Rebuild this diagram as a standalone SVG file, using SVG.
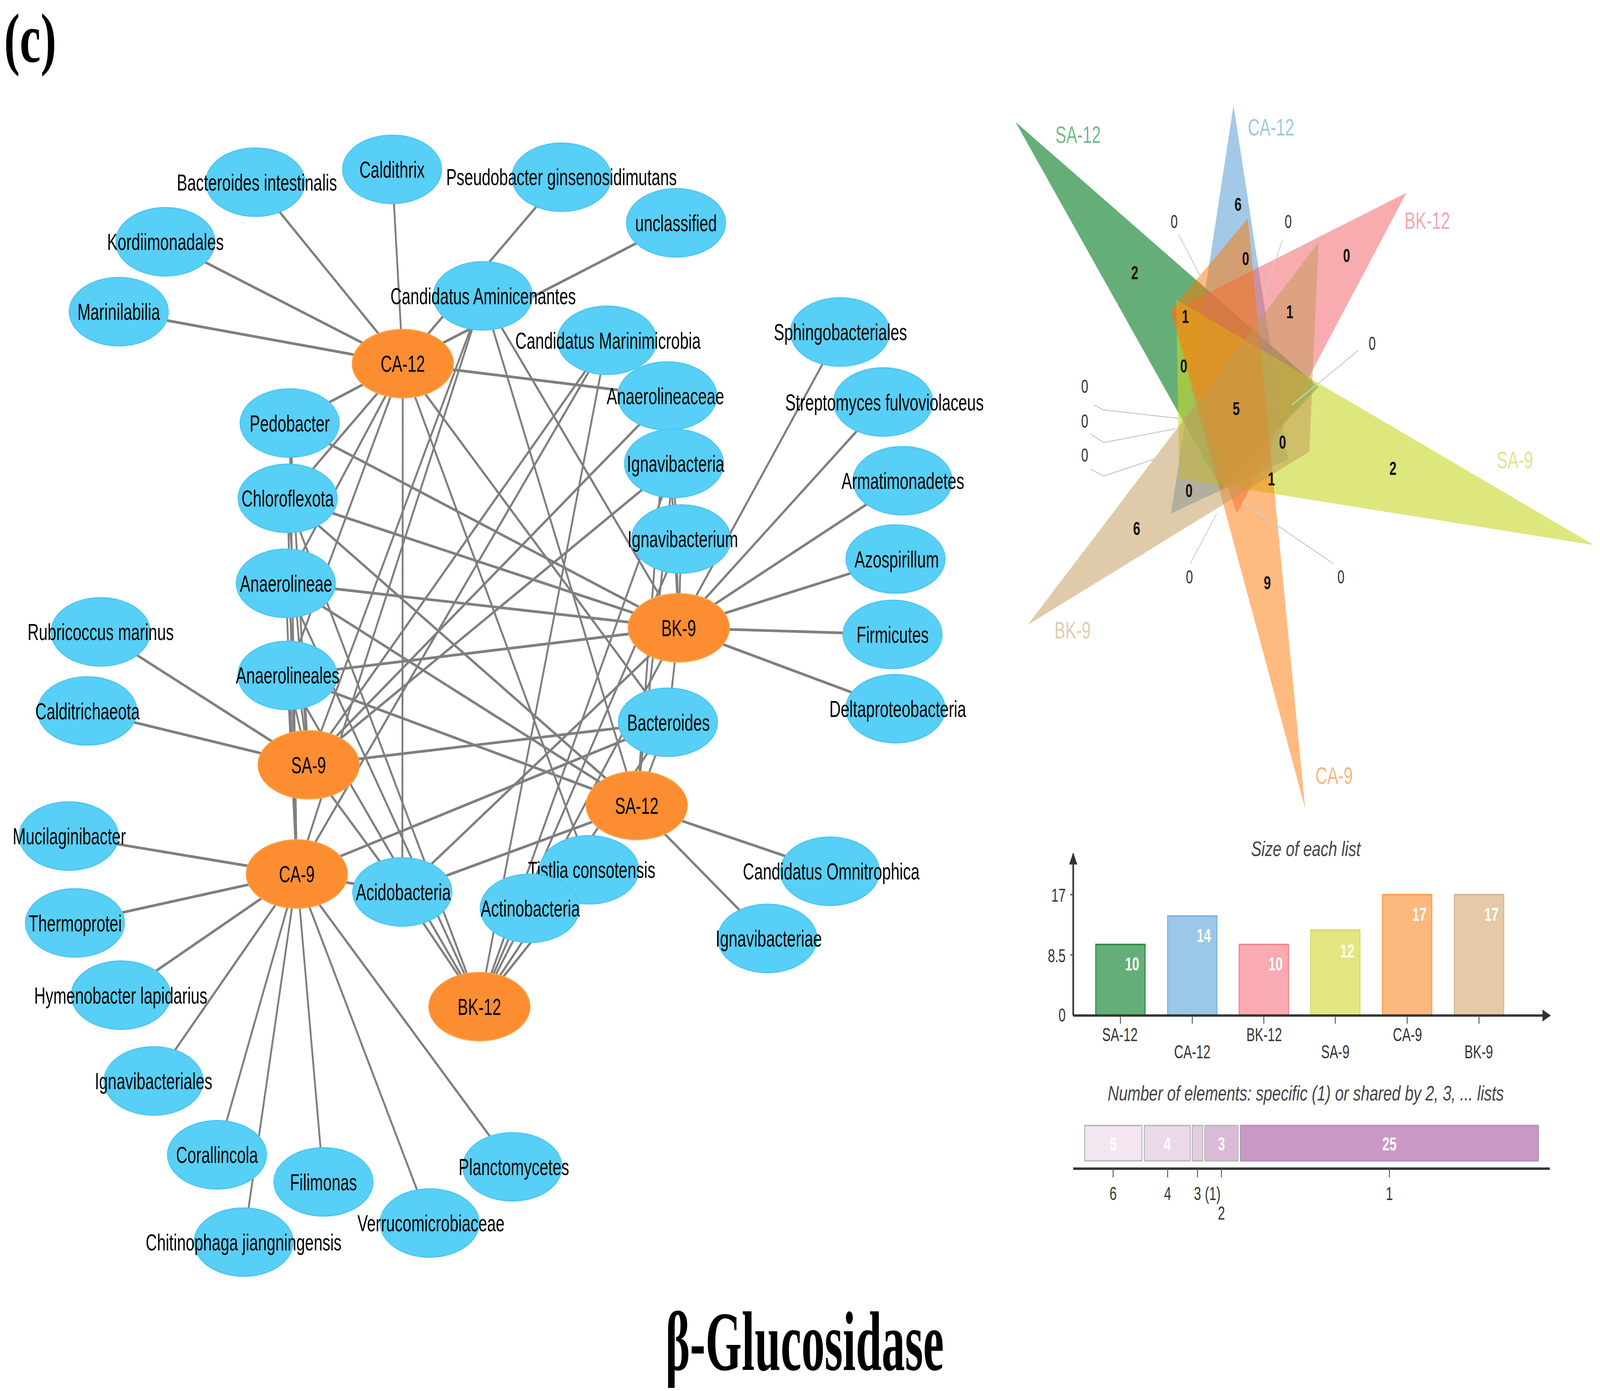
<svg xmlns="http://www.w3.org/2000/svg" width="6026" height="3562" viewBox="0 0 6026 3562" preserveAspectRatio="none" style="width:100vw;height:100vh;display:block">
<style>
.e{stroke:#7f7f7f;stroke-width:1.8;fill:none}
.nb{fill:#58cff6;stroke:#4cc6f2;stroke-width:0.8}
.no{fill:#fd8d31;stroke:#f9a545;stroke-width:0.8}
.lb{font-family:"Liberation Sans",Arial,sans-serif;font-size:15.3px;fill:#000;text-anchor:middle}
.vn{font-family:"Liberation Sans",Arial,sans-serif;font-size:12.5px;text-anchor:middle;fill:#111;font-weight:bold}
.vo{font-family:"Liberation Sans",Arial,sans-serif;font-size:12.5px;text-anchor:middle;fill:#333}
.vl{font-family:"Liberation Sans",Arial,sans-serif;font-size:16px}
.ld{stroke:#cfcfcf;stroke-width:0.8;fill:none}
.ax{stroke:#333;stroke-width:1.6;fill:none}
.tk{stroke:#555;stroke-width:0.9}
.bt{font-family:"Liberation Sans",Arial,sans-serif;font-size:12.5px;fill:#333;text-anchor:middle}
.br{font-family:"Liberation Sans",Arial,sans-serif;font-size:12.5px;fill:#333;text-anchor:end}
.bv{font-family:"Liberation Sans",Arial,sans-serif;font-size:12.5px;fill:#fff;font-weight:bold;text-anchor:middle}
.it{font-family:"Liberation Sans",Arial,sans-serif;font-size:14px;fill:#444;font-style:italic;text-anchor:middle}
.ttl{font-family:"Liberation Serif","Times New Roman",serif;font-weight:bold;fill:#000}
</style>
<defs>
<marker id="ah" viewBox="0 0 10 10" refX="9" refY="5" markerWidth="9" markerHeight="8" markerUnits="userSpaceOnUse" orient="auto"><path d="M0,0 L10,5 L0,10 z" fill="#333"/></marker>
</defs>
<rect width="6026" height="3562" fill="#fff"/>
<g transform="scale(3.85541)">
<text class="ttl" x="4" y="41" font-size="46">(c)</text>
<text class="ttl" x="650" y="910" font-size="56" textLength="272" lengthAdjust="spacingAndGlyphs">β-Glucosidase</text>

<g id="connectors">
<line class="e" x1="393.5" y1="241.5" x2="249.5" y2="121"/>
<line class="e" x1="393.5" y1="241.5" x2="383" y2="112.5"/>
<line class="e" x1="393.5" y1="241.5" x2="548.5" y2="117.7"/>
<line class="e" x1="393.5" y1="241.5" x2="660.4" y2="148"/>
<line class="e" x1="393.5" y1="241.5" x2="161.6" y2="160.6"/>
<line class="e" x1="393.5" y1="241.5" x2="116" y2="207"/>
<line class="e" x1="393.5" y1="241.5" x2="283" y2="281"/>
<line class="e" x1="393.5" y1="241.5" x2="281" y2="331"/>
<line class="e" x1="393.5" y1="241.5" x2="279.2" y2="387.4"/>
<line class="e" x1="393.5" y1="241.5" x2="280.8" y2="448.6"/>
<line class="e" x1="393.5" y1="241.5" x2="393" y2="592.4"/>
<line class="e" x1="393.5" y1="241.5" x2="652.5" y2="479.7"/>
<line class="e" x1="393.5" y1="241.5" x2="575.5" y2="577.7"/>
<line class="e" x1="393.5" y1="241.5" x2="651.8" y2="263"/>
<line class="e" x1="663" y1="417" x2="820.6" y2="220.5"/>
<line class="e" x1="663" y1="417" x2="862.7" y2="267"/>
<line class="e" x1="663" y1="417" x2="881.7" y2="319.3"/>
<line class="e" x1="663" y1="417" x2="874.8" y2="371.3"/>
<line class="e" x1="663" y1="417" x2="871.9" y2="421.4"/>
<line class="e" x1="663" y1="417" x2="874.7" y2="470.7"/>
<line class="e" x1="663" y1="417" x2="281" y2="331"/>
<line class="e" x1="663" y1="417" x2="279.2" y2="387.4"/>
<line class="e" x1="663" y1="417" x2="280.8" y2="448.6"/>
<line class="e" x1="663" y1="417" x2="393" y2="592.4"/>
<line class="e" x1="663" y1="417" x2="652.5" y2="479.7"/>
<line class="e" x1="663" y1="417" x2="283" y2="281"/>
<line class="e" x1="663" y1="417" x2="471.7" y2="196.5"/>
<line class="e" x1="663" y1="417" x2="651.8" y2="263"/>
<line class="e" x1="663" y1="417" x2="658.4" y2="307.8"/>
<line class="e" x1="663" y1="417" x2="665.4" y2="358"/>
<line class="e" x1="663" y1="417" x2="517.5" y2="603.3"/>
<line class="e" x1="301.5" y1="508" x2="98.3" y2="419.7"/>
<line class="e" x1="301.5" y1="508" x2="85.2" y2="472.2"/>
<line class="e" x1="301.5" y1="508" x2="281" y2="331"/>
<line class="e" x1="301.5" y1="508" x2="279.2" y2="387.4"/>
<line class="e" x1="301.5" y1="508" x2="280.8" y2="448.6"/>
<line class="e" x1="301.5" y1="508" x2="393" y2="592.4"/>
<line class="e" x1="301.5" y1="508" x2="652.5" y2="479.7"/>
<line class="e" x1="301.5" y1="508" x2="471.7" y2="196.5"/>
<line class="e" x1="301.5" y1="508" x2="593" y2="226"/>
<line class="e" x1="301.5" y1="508" x2="651.8" y2="263"/>
<line class="e" x1="301.5" y1="508" x2="658.4" y2="307.8"/>
<line class="e" x1="301.5" y1="508" x2="283" y2="281"/>
<line class="e" x1="290" y1="580.5" x2="67.2" y2="555.3"/>
<line class="e" x1="290" y1="580.5" x2="73.2" y2="613"/>
<line class="e" x1="290" y1="580.5" x2="118" y2="661"/>
<line class="e" x1="290" y1="580.5" x2="150" y2="718"/>
<line class="e" x1="290" y1="580.5" x2="212" y2="767"/>
<line class="e" x1="290" y1="580.5" x2="316" y2="785"/>
<line class="e" x1="290" y1="580.5" x2="238" y2="825"/>
<line class="e" x1="290" y1="580.5" x2="419.7" y2="812.3"/>
<line class="e" x1="290" y1="580.5" x2="500.5" y2="775"/>
<line class="e" x1="290" y1="580.5" x2="281" y2="331"/>
<line class="e" x1="290" y1="580.5" x2="279.2" y2="387.4"/>
<line class="e" x1="290" y1="580.5" x2="280.8" y2="448.6"/>
<line class="e" x1="290" y1="580.5" x2="393" y2="592.4"/>
<line class="e" x1="290" y1="580.5" x2="652.5" y2="479.7"/>
<line class="e" x1="290" y1="580.5" x2="471.7" y2="196.5"/>
<line class="e" x1="290" y1="580.5" x2="593" y2="226"/>
<line class="e" x1="290" y1="580.5" x2="283" y2="281"/>
<line class="e" x1="622" y1="535" x2="810.7" y2="578.7"/>
<line class="e" x1="622" y1="535" x2="749.6" y2="623.3"/>
<line class="e" x1="622" y1="535" x2="281" y2="331"/>
<line class="e" x1="622" y1="535" x2="279.2" y2="387.4"/>
<line class="e" x1="622" y1="535" x2="280.8" y2="448.6"/>
<line class="e" x1="622" y1="535" x2="393" y2="592.4"/>
<line class="e" x1="622" y1="535" x2="652.5" y2="479.7"/>
<line class="e" x1="622" y1="535" x2="658.4" y2="307.8"/>
<line class="e" x1="622" y1="535" x2="471.7" y2="196.5"/>
<line class="e" x1="622" y1="535" x2="651.8" y2="263"/>
<line class="e" x1="468.3" y1="668.6" x2="281" y2="331"/>
<line class="e" x1="468.3" y1="668.6" x2="279.2" y2="387.4"/>
<line class="e" x1="468.3" y1="668.6" x2="280.8" y2="448.6"/>
<line class="e" x1="468.3" y1="668.6" x2="393" y2="592.4"/>
<line class="e" x1="468.3" y1="668.6" x2="652.5" y2="479.7"/>
<line class="e" x1="468.3" y1="668.6" x2="517.5" y2="603.3"/>
<line class="e" x1="468.3" y1="668.6" x2="575.5" y2="577.7"/>
<line class="e" x1="468.3" y1="668.6" x2="665.4" y2="358"/>
<line class="e" x1="468.3" y1="668.6" x2="658.4" y2="307.8"/>
<line class="e" x1="468.3" y1="668.6" x2="593" y2="226"/>
</g>

<g id="n-bacteroides-intestinalis"><ellipse class="nb" cx="249.5" cy="121" rx="48.5" ry="22.7"/><text class="lb" x="251" y="126.5">Bacteroides intestinalis</text></g>
<g id="n-caldithrix"><ellipse class="nb" cx="383" cy="112.5" rx="48.5" ry="22.7"/><text class="lb" x="383" y="118">Caldithrix</text></g>
<g id="n-pseudobacter"><ellipse class="nb" cx="548.5" cy="117.7" rx="48.5" ry="22.7"/><text class="lb" x="548.5" y="123">Pseudobacter ginsenosidimutans</text></g>
<g id="n-unclassified"><ellipse class="nb" cx="660.4" cy="148" rx="48.5" ry="22.7"/><text class="lb" x="660.4" y="153.5">unclassified</text></g>
<g id="n-kordiimonadales"><ellipse class="nb" cx="161.6" cy="160.6" rx="48.5" ry="22.7"/><text class="lb" x="161.6" y="166">Kordiimonadales</text></g>
<g id="n-marinilabilia"><ellipse class="nb" cx="116" cy="207" rx="48.5" ry="22.7"/><text class="lb" x="116" y="212.5">Marinilabilia</text></g>
<g id="n-marinimicrobia"><ellipse class="nb" cx="593" cy="226" rx="48.5" ry="22.7"/><text class="lb" x="594" y="231.5">Candidatus Marinimicrobia</text></g>
<g id="n-aminicenantes"><ellipse class="nb" cx="471.7" cy="196.5" rx="48.5" ry="22.7"/><text class="lb" x="472" y="202">Candidatus Aminicenantes</text></g>
<g id="n-pedobacter"><ellipse class="nb" cx="283" cy="281" rx="48.5" ry="22.7"/><text class="lb" x="283" y="286.5">Pedobacter</text></g>
<g id="n-anaerolineaceae"><ellipse class="nb" cx="651.8" cy="263" rx="48.5" ry="22.7"/><text class="lb" x="650" y="268.5">Anaerolineaceae</text></g>
<g id="n-chloroflexota"><ellipse class="nb" cx="281" cy="331" rx="48.5" ry="22.7"/><text class="lb" x="281" y="336.5">Chloroflexota</text></g>
<g id="n-ignavibacteria"><ellipse class="nb" cx="658.4" cy="307.8" rx="48.5" ry="22.7"/><text class="lb" x="660" y="313.3">Ignavibacteria</text></g>
<g id="n-ignavibacterium"><ellipse class="nb" cx="665.4" cy="358" rx="48.5" ry="22.7"/><text class="lb" x="667" y="363.5">Ignavibacterium</text></g>
<g id="n-anaerolineae"><ellipse class="nb" cx="279.2" cy="387.4" rx="48.5" ry="22.7"/><text class="lb" x="279.5" y="393">Anaerolineae</text></g>
<g id="n-anaerolineales"><ellipse class="nb" cx="280.8" cy="448.6" rx="48.5" ry="22.7"/><text class="lb" x="281" y="454">Anaerolineales</text></g>
<g id="n-rubricoccus"><ellipse class="nb" cx="98.3" cy="419.7" rx="48.5" ry="22.7"/><text class="lb" x="98.3" y="425.2">Rubricoccus marinus</text></g>
<g id="n-calditrichaeota"><ellipse class="nb" cx="85.2" cy="472.2" rx="48.5" ry="22.7"/><text class="lb" x="85.5" y="477.7">Calditrichaeota</text></g>
<g id="n-sphingobacteriales"><ellipse class="nb" cx="820.6" cy="220.5" rx="48.5" ry="22.7"/><text class="lb" x="821" y="226">Sphingobacteriales</text></g>
<g id="n-streptomyces"><ellipse class="nb" cx="862.7" cy="267" rx="48.5" ry="22.7"/><text class="lb" x="864" y="272.5">Streptomyces fulvoviolaceus</text></g>
<g id="n-armatimonadetes"><ellipse class="nb" cx="881.7" cy="319.3" rx="48.5" ry="22.7"/><text class="lb" x="882" y="324.8">Armatimonadetes</text></g>
<g id="n-azospirillum"><ellipse class="nb" cx="874.8" cy="371.3" rx="48.5" ry="22.7"/><text class="lb" x="876" y="376.8">Azospirillum</text></g>
<g id="n-firmicutes"><ellipse class="nb" cx="871.9" cy="421.4" rx="48.5" ry="22.7"/><text class="lb" x="872" y="426.9">Firmicutes</text></g>
<g id="n-deltaproteobacteria"><ellipse class="nb" cx="874.7" cy="470.7" rx="48.5" ry="22.7"/><text class="lb" x="877" y="476.2">Deltaproteobacteria</text></g>
<g id="n-bacteroides"><ellipse class="nb" cx="652.5" cy="479.7" rx="48.5" ry="22.7"/><text class="lb" x="653" y="485.2">Bacteroides</text></g>
<g id="n-mucilaginibacter"><ellipse class="nb" cx="67.2" cy="555.3" rx="48.5" ry="22.7"/><text class="lb" x="67.7" y="560.8">Mucilaginibacter</text></g>
<g id="n-thermoprotei"><ellipse class="nb" cx="73.2" cy="613" rx="48.5" ry="22.7"/><text class="lb" x="73.5" y="618.5">Thermoprotei</text></g>
<g id="n-acidobacteria"><ellipse class="nb" cx="393" cy="592.4" rx="48.5" ry="22.7"/><text class="lb" x="394" y="597.9">Acidobacteria</text></g>
<g id="n-tistlia"><ellipse class="nb" cx="575.5" cy="577.7" rx="48.5" ry="22.7"/><text class="lb" x="578" y="583.2">Tistlia consotensis</text></g>
<g id="n-actinobacteria"><ellipse class="nb" cx="517.5" cy="603.3" rx="48.5" ry="22.7"/><text class="lb" x="518" y="608.8">Actinobacteria</text></g>
<g id="n-omnitrophica"><ellipse class="nb" cx="810.7" cy="578.7" rx="48.5" ry="22.7"/><text class="lb" x="812" y="584.2">Candidatus Omnitrophica</text></g>
<g id="n-ignavibacteriae"><ellipse class="nb" cx="749.6" cy="623.3" rx="48.5" ry="22.7"/><text class="lb" x="751" y="628.8">Ignavibacteriae</text></g>
<g id="n-hymenobacter"><ellipse class="nb" cx="118" cy="661" rx="48.5" ry="22.7"/><text class="lb" x="118" y="666.5">Hymenobacter lapidarius</text></g>
<g id="n-ignavibacteriales"><ellipse class="nb" cx="150" cy="718" rx="48.5" ry="22.7"/><text class="lb" x="150" y="723.5">Ignavibacteriales</text></g>
<g id="n-corallincola"><ellipse class="nb" cx="212" cy="767" rx="48.5" ry="22.7"/><text class="lb" x="212" y="772.5">Corallincola</text></g>
<g id="n-filimonas"><ellipse class="nb" cx="316" cy="785" rx="48.5" ry="22.7"/><text class="lb" x="316" y="790.5">Filimonas</text></g>
<g id="n-planctomycetes"><ellipse class="nb" cx="500.5" cy="775" rx="48.5" ry="22.7"/><text class="lb" x="502" y="780.5">Planctomycetes</text></g>
<g id="n-chitinophaga"><ellipse class="nb" cx="238" cy="825" rx="48.5" ry="22.7"/><text class="lb" x="238" y="830.5">Chitinophaga jiangningensis</text></g>
<g id="n-verrucomicrobiaceae"><ellipse class="nb" cx="419.7" cy="812.3" rx="48.5" ry="22.7"/><text class="lb" x="421" y="817.8">Verrucomicrobiaceae</text></g>

<g id="n-CA-12"><ellipse class="no" cx="393.5" cy="241.5" rx="49.5" ry="22.7"/><text class="lb" x="393.5" y="247">CA-12</text></g>
<g id="n-BK-9"><ellipse class="no" cx="663" cy="417" rx="49.5" ry="22.7"/><text class="lb" x="663" y="422.5">BK-9</text></g>
<g id="n-SA-9"><ellipse class="no" cx="301.5" cy="508" rx="49.5" ry="22.7"/><text class="lb" x="301.5" y="513.5">SA-9</text></g>
<g id="n-CA-9"><ellipse class="no" cx="290" cy="580.5" rx="49.5" ry="22.7"/><text class="lb" x="290" y="586">CA-9</text></g>
<g id="n-SA-12"><ellipse class="no" cx="622" cy="535" rx="49.5" ry="22.7"/><text class="lb" x="622" y="540.5">SA-12</text></g>
<g id="n-BK-12"><ellipse class="no" cx="468.3" cy="668.6" rx="49.5" ry="22.7"/><text class="lb" x="468.3" y="674.1">BK-12</text></g>

<g id="venn">
<polygon points="992,81 1288,257 1193,325" fill="rgb(0,120,30)" fill-opacity="0.6"/>
<polygon points="1205,70 1144,341 1258,305" fill="rgb(90,155,212)" fill-opacity="0.55"/>
<polygon points="1374,128 1144,207 1208,341" fill="rgb(241,90,96)" fill-opacity="0.5"/>
<polygon points="1557,362 1149,199 1152,318" fill="rgb(200,215,40)" fill-opacity="0.6"/>
<polygon points="1275,537 1219,145 1144,206" fill="rgb(255,117,0)" fill-opacity="0.5"/>
<polygon points="1004,415 1288,161 1279,300" fill="rgb(192,152,83)" fill-opacity="0.5"/>
<polyline class="ld" points="1151.6,156 1175.5,187.4"/>
<polyline class="ld" points="1253,159 1234.5,196.8"/>
<polyline class="ld" points="1326.5,233 1262,269"/>
<polyline class="ld" points="1068.8,269 1078,272.2 1151.6,277.9"/>
<polyline class="ld" points="1065,288 1078,294 1148,284.8"/>
<polyline class="ld" points="1065,311.5 1078,316.2 1149.8,299.9"/>
<polyline class="ld" points="1162.7,374.4 1188.4,341.4"/>
<polyline class="ld" points="1302.6,374.4 1214.2,333.5"/>
<text class="vl" x="1031" y="95" fill="rgb(120,185,135)">SA-12</text>
<text class="vl" x="1219" y="90" fill="rgb(155,200,230)">CA-12</text>
<text class="vl" x="1372" y="152" fill="rgb(245,165,172)">BK-12</text>
<text class="vl" x="1462" y="311" fill="rgb(222,228,140)">SA-9</text>
<text class="vl" x="1285" y="520.5" fill="rgb(250,180,120)">CA-9</text>
<text class="vl" x="1030" y="424" fill="rgb(225,205,170)">BK-9</text>
<text class="vn" x="1209.4" y="140">6</text>
<text class="vo" x="1147" y="151.5">0</text>
<text class="vo" x="1258.4" y="151.5">0</text>
<text class="vn" x="1108.5" y="185.5">2</text>
<text class="vn" x="1216.8" y="176.2">0</text>
<text class="vn" x="1315.5" y="174">0</text>
<text class="vn" x="1158" y="214.5">1</text>
<text class="vn" x="1260" y="211.5">1</text>
<text class="vo" x="1340.5" y="232.5">0</text>
<text class="vn" x="1156.4" y="247.5">0</text>
<text class="vn" x="1207.6" y="275.8">5</text>
<text class="vo" x="1059.6" y="261">0</text>
<text class="vo" x="1059.6" y="284">0</text>
<text class="vo" x="1059.6" y="306.5">0</text>
<text class="vn" x="1252.9" y="298.1">0</text>
<text class="vn" x="1360.7" y="315.4">2</text>
<text class="vn" x="1242" y="322.3">1</text>
<text class="vn" x="1161.5" y="330.2">0</text>
<text class="vn" x="1110.4" y="355.3">6</text>
<text class="vo" x="1161.9" y="387.4">0</text>
<text class="vo" x="1310" y="387.4">0</text>
<text class="vn" x="1238" y="391.5">9</text>
</g>

<g id="bar-chart">
<text class="it" x="1275.6" y="568.5" textLength="107" lengthAdjust="spacingAndGlyphs">Size of each list</text>
<rect x="1070.4" y="627.3" width="48.2" height="47.2" fill="rgb(100,175,120)" stroke="rgb(45,135,65)" stroke-width="1"/>
<rect x="1140.6" y="608.4" width="48.2" height="66.1" fill="rgb(155,200,232)" stroke="rgb(120,178,222)" stroke-width="1"/>
<rect x="1210.5" y="627.3" width="48.2" height="47.2" fill="rgb(250,170,178)" stroke="rgb(242,130,140)" stroke-width="1"/>
<rect x="1280.3" y="617.8" width="48.2" height="56.7" fill="rgb(228,230,130)" stroke="rgb(212,218,100)" stroke-width="1"/>
<rect x="1350.5" y="594.2" width="48.2" height="80.3" fill="rgb(253,185,125)" stroke="rgb(250,155,80)" stroke-width="1"/>
<rect x="1420.7" y="594.2" width="48.2" height="80.3" fill="rgb(228,202,168)" stroke="rgb(212,182,145)" stroke-width="1"/>
<text class="bv" x="1106" y="644.5">10</text>
<text class="bv" x="1176" y="625.5">14</text>
<text class="bv" x="1246" y="644.5">10</text>
<text class="bv" x="1316" y="636">12</text>
<text class="bv" x="1386.5" y="611.7">17</text>
<text class="bv" x="1457" y="611.7">17</text>
<line class="ax" x1="1048.4" y1="674.5" x2="1048.4" y2="567" marker-end="url(#ah)"/>
<line class="ax" x1="1048.4" y1="674.5" x2="1514" y2="674.5" marker-end="url(#ah)"/>
<line class="tk" x1="1045.5" y1="594.2" x2="1048.4" y2="594.2"/>
<line class="tk" x1="1045.5" y1="634.3" x2="1048.4" y2="634.3"/>
<text class="br" x="1041" y="599">17</text>
<text class="br" x="1041" y="639">8.5</text>
<text class="br" x="1041" y="678.5">0</text>
<line class="tk" x1="1094.5" y1="674.5" x2="1094.5" y2="680"/>
<line class="tk" x1="1164.7" y1="674.5" x2="1164.7" y2="680"/>
<line class="tk" x1="1234.6" y1="674.5" x2="1234.6" y2="680"/>
<line class="tk" x1="1304.4" y1="674.5" x2="1304.4" y2="680"/>
<line class="tk" x1="1374.6" y1="674.5" x2="1374.6" y2="680"/>
<line class="tk" x1="1444.8" y1="674.5" x2="1444.8" y2="680"/>
<text class="bt" x="1094" y="691.5">SA-12</text>
<text class="bt" x="1164.7" y="703">CA-12</text>
<text class="bt" x="1234.9" y="691.5">BK-12</text>
<text class="bt" x="1304.4" y="703">SA-9</text>
<text class="bt" x="1374.9" y="691.5">CA-9</text>
<text class="bt" x="1444.5" y="703">BK-9</text>
<text class="it" x="1275.6" y="731" textLength="387" lengthAdjust="spacingAndGlyphs">Number of elements: specific (1) or shared by 2, 3, ... lists</text>
<rect x="1059.6" y="747.6" width="55.9" height="23.4" fill="rgb(243,230,240)" stroke="#b8b8b8" stroke-width="1"/>
<rect x="1117.9" y="747.6" width="44.8" height="23.4" fill="rgb(236,217,232)" stroke="#b8b8b8" stroke-width="1"/>
<rect x="1164.7" y="747.6" width="10.2" height="23.4" fill="rgb(229,205,226)" stroke="#b8b8b8" stroke-width="1"/>
<rect x="1176.9" y="747.6" width="32.5" height="23.4" fill="rgb(218,186,216)" stroke="#b8b8b8" stroke-width="1"/>
<rect x="1211.8" y="747.6" width="291" height="23.4" fill="rgb(202,152,196)" stroke="#b094b0" stroke-width="1"/>
<text class="bv" x="1087.5" y="764">5</text>
<text class="bv" x="1140.3" y="764">4</text>
<text class="bv" x="1193.2" y="764">3</text>
<text class="bv" x="1357.3" y="764">25</text>
<line class="ax" x1="1048.4" y1="776.2" x2="1514" y2="776.2"/>
<line class="tk" x1="1087.4" y1="776.2" x2="1087.4" y2="782"/>
<line class="tk" x1="1140.6" y1="776.2" x2="1140.6" y2="782"/>
<line class="tk" x1="1169.8" y1="776.2" x2="1169.8" y2="782"/>
<line class="tk" x1="1193.2" y1="776.2" x2="1193.2" y2="782"/>
<line class="tk" x1="1357.3" y1="776.2" x2="1357.3" y2="782"/>
<text class="bt" x="1087.4" y="797">6</text>
<text class="bt" x="1140.6" y="797">4</text>
<text class="bt" x="1169.8" y="797">3</text>
<text class="bt" x="1184.7" y="797">(1)</text>
<text class="bt" x="1193.2" y="810">2</text>
<text class="bt" x="1357.3" y="797">1</text>
</g>
</g>
</svg>
